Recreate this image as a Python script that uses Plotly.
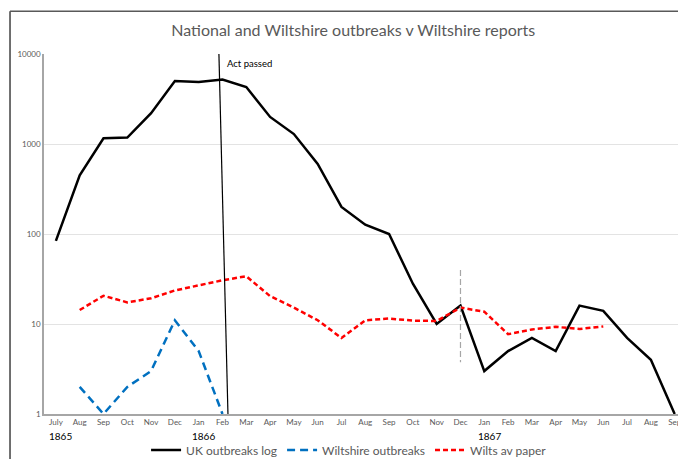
import plotly.graph_objects as go

# month categories, July 1865 to Sep 1867
months = ["July", "Aug", "Sep", "Oct", "Nov", "Dec", "Jan", "Feb", "Mar", "Apr", "May", "Jun",
          "Jul", "Aug", "Sep", "Oct", "Nov", "Dec", "Jan", "Feb", "Mar", "Apr", "May", "Jun",
          "Jul", "Aug", "Sep"]
year_labels = ["1865", "1866", "1867"]
year_pos = [0, 6, 18]

uk_outbreaks = [84, 450, 1160, 1180, 2200, 5000, 4900, 5200, 4300, 2000, 1290, 600,
                200, 127, 100, 28, 10, 16, 3, 5, 7, 5, 16, 14, 7, 4, 1]
wilts_outbreaks = [None, 2, 1, 2, 3, 11, 5, 1] + [None] * 19
wilts_paper = [None, 14.3, 20.6, 17.4, 19.3, 23.6, 27, 30.6, 33.9, 20.4, 15.2, 11,
               7, 11, 11.5, 10.9, 10.8, 15.2, 13.7, 7.7, 8.7, 9.3, 8.8, 9.4,
               None, None, None]

x = list(range(len(months)))

fig = go.Figure()
fig.add_trace(go.Scatter(x=x, y=uk_outbreaks, mode="lines", name="UK outbreaks log",
                         line=dict(color="black", width=2.5)))
fig.add_trace(go.Scatter(x=x, y=wilts_outbreaks, mode="lines", name="Wiltshire outbreaks",
                         line=dict(color="#0070C0", width=2.5, dash="8px,5px")))
fig.add_trace(go.Scatter(x=x, y=wilts_paper, mode="lines", name="Wilts av paper",
                         line=dict(color="#FF0000", width=2.5, dash="5px,3px")))

# "Act passed" marker line (slightly slanted as in the original)
fig.add_shape(type="line", xref="x", yref="paper", x0=6.85, x1=7.23, y0=1, y1=0,
              line=dict(color="black", width=1.2))
fig.add_annotation(text="Act passed", xref="x", yref="paper", x=7.12, y=0.975,
                   xanchor="left", yanchor="middle", showarrow=False,
                   font=dict(size=9.5, color="black"))

# gray dashed marker at Dec 1866
fig.add_shape(type="line", xref="x", yref="paper", x0=17, x1=17, y0=0.4, y1=0.144,
              line=dict(color="#A6A6A6", width=1.2, dash="6px,3px"))

for yr, pos in zip(year_labels, year_pos):
    fig.add_annotation(text=yr, xref="x", yref="paper", x=pos + 0.2, y=-0.061,
                       xanchor="center", yanchor="middle", showarrow=False,
                       font=dict(size=10, color="black"))

# chart border (left and top)
fig.add_shape(type="line", xref="paper", yref="paper", x0=-0.0536, x1=-0.0536, y0=1.119, y1=-0.2,
              line=dict(color="#404040", width=1.5))
fig.add_shape(type="line", xref="paper", yref="paper", x0=-0.0536, x1=1.1, y0=1.119, y1=1.119,
              line=dict(color="#595959", width=1.5))

fig.update_layout(
    width=678, height=459,
    margin=dict(l=44, r=0, t=54, b=45),
    paper_bgcolor="white", plot_bgcolor="white",
    font=dict(family="Lato", color="#595959"),
    title=dict(text="National and Wiltshire outbreaks v Wiltshire reports",
               x=0.521, xanchor="center", y=1 - 30 / 459, yanchor="middle",
               font=dict(size=16, color="#595959")),
    xaxis=dict(tickvals=x, ticktext=months, range=[-0.5, 26.14], automargin=False,
               ticklabeloverflow="allow",
               tickfont=dict(size=8, color="#595959"), showgrid=False,
               showline=True, linecolor="#A6A6A6", linewidth=1.5, ticks="", zeroline=False),
    yaxis=dict(type="log", range=[0, 4], tickvals=[1, 10, 100, 1000, 10000],
               ticktext=["1", "10", "100", "1000", "10000"], automargin=False,
               tickfont=dict(size=8, color="#595959"),
               showgrid=True, gridcolor="#E3E3E3", gridwidth=1,
               showline=True, linecolor="#A6A6A6", linewidth=1.5, ticks=""),
    legend=dict(orientation="h", x=0.161, xanchor="left",
                yref="container", y=1 - 450 / 459, yanchor="middle",
                font=dict(size=12, color="#595959"), bgcolor="rgba(0,0,0,0)"),
)

# drop the page's default body margin so the figure sits at the window's corner
fig.write_html("out.html", config={"displayModeBar": False},
               post_script="document.body.style.margin='0';")
